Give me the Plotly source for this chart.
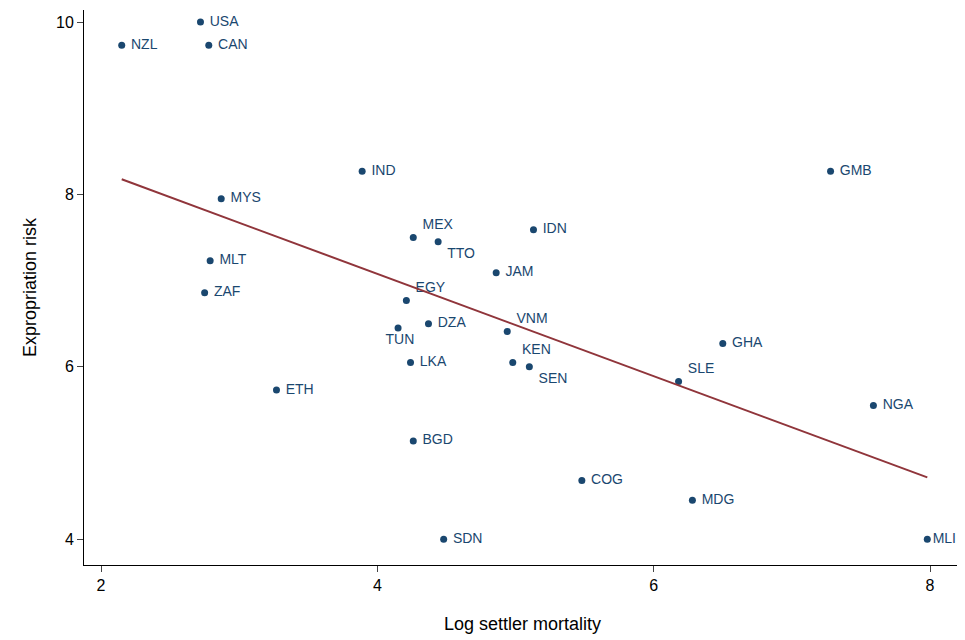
import numpy as np
import plotly.graph_objects as go

countries = ["USA", "NZL", "CAN", "IND", "GMB", "MYS", "MEX", "TTO", "IDN", "MLT",
             "JAM", "ZAF", "EGY", "TUN", "DZA", "VNM", "GHA", "KEN", "LKA", "SEN",
             "SLE", "ETH", "NGA", "BGD", "COG", "MDG", "SDN", "MLI"]
log_mortality = [2.72, 2.15, 2.78, 3.89, 7.28, 2.87, 4.26, 4.44, 5.13, 2.79,
                 4.86, 2.75, 4.21, 4.15, 4.37, 4.94, 6.50, 4.98, 4.24, 5.10,
                 6.18, 3.27, 7.59, 4.26, 5.48, 6.28, 4.48, 7.98]
expropriation = [10.0, 9.73, 9.73, 8.27, 8.27, 7.95, 7.50, 7.45, 7.59, 7.23,
                 7.09, 6.86, 6.77, 6.45, 6.50, 6.41, 6.27, 6.05, 6.05, 6.00,
                 5.83, 5.73, 5.55, 5.14, 4.68, 4.45, 4.00, 4.00]
label_pos = {"EGY": "top right", "TUN": "bottom center", "VNM": "top right",
             "TTO": "bottom right", "MEX": "top right", "KEN": "top right",
             "SEN": "bottom right", "SLE": "top right"}
positions = [label_pos.get(c, "middle right") for c in countries]
# the last label sits at the page edge, so it gets no leading gap
labels = [" " + c if c != "MLI" else c for c in countries]

navy = "#1a476f"
fit_color = "#90353b"

slope, intercept = np.polyfit(log_mortality, expropriation, 1)
fit_x = np.array([min(log_mortality), max(log_mortality)])
fit_y = intercept + slope * fit_x

fig = go.Figure()
fig.add_trace(go.Scatter(x=log_mortality, y=expropriation, mode="markers+text",
                         text=labels, textposition=positions,
                         textfont=dict(color=navy, size=14),
                         marker=dict(color=navy, size=7), showlegend=False,
                         cliponaxis=False))
fig.add_trace(go.Scatter(x=fit_x, y=fit_y, mode="lines",
                         line=dict(color=fit_color, width=2), showlegend=False))

fig.update_layout(
    width=965, height=640,
    margin=dict(l=76, r=12, t=2, b=83, autoexpand=False),
    plot_bgcolor="white", paper_bgcolor="white",
    font=dict(family="Liberation Sans, Arial, sans-serif", size=16, color="black"),
    xaxis=dict(range=[1.877, 8.224], tickvals=[2, 4, 6, 8], showgrid=False, zeroline=False,
               showline=True, linecolor="black", ticks="outside", ticklen=6, automargin=False,
               title=dict(text="Log settler mortality", font=dict(size=18), standoff=24)),
    yaxis=dict(range=[3.70, 10.14], tickvals=[4, 6, 8, 10], showgrid=False, zeroline=False,
               showline=True, linecolor="black", ticks="outside", ticklen=6, automargin=False,
               title=dict(text="Expropriation risk", font=dict(size=18), standoff=14)),
)

fig.write_html("out.html")
